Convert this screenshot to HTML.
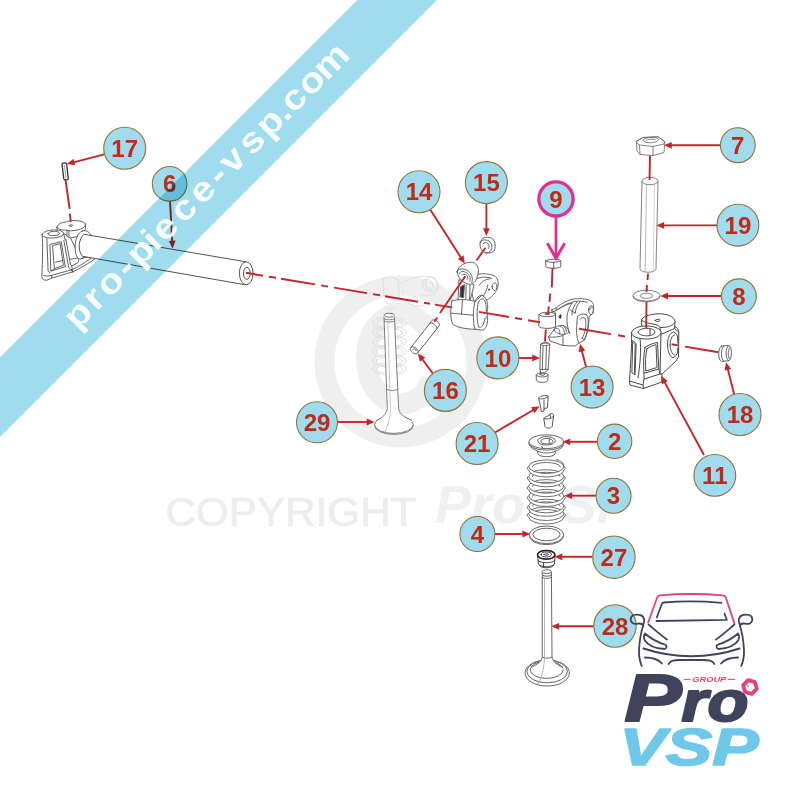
<!DOCTYPE html>
<html lang="fr"><head><meta charset="utf-8"><title>pro-piece-vsp.com</title>
<style>
html,body{margin:0;padding:0;background:#fff;}
svg{display:block;}
text{font-family:"Liberation Sans",sans-serif;}
.num{font-weight:bold;fill:#c02b17;text-anchor:middle;}
.ln{fill:none;stroke:#6a6a6a;stroke-width:0.9;stroke-linecap:round;stroke-linejoin:round;}
.lnf{fill:#fff;stroke:#6a6a6a;stroke-width:0.9;stroke-linecap:round;stroke-linejoin:round;}
.red{fill:none;stroke:#cc2a22;stroke-width:1.5;}
.redf{fill:#cc2a22;stroke:none;}
</style></head><body>
<svg width="800" height="800" viewBox="0 0 800 800">
<rect width="800" height="800" fill="#ffffff"/>
<g id="watermark">
<circle cx="400.5" cy="361.5" r="76" fill="none" stroke="#efefef" stroke-width="20"/>
<path d="M 431.5 337.1 A 34.5 45.5 0 1 0 431.5 379.9" fill="none" stroke="#efefef" stroke-width="21"/>
<text x="165.5" y="526.3" font-size="41.5" fill="#ededed" stroke="#ededed" stroke-width="0.7" textLength="251" lengthAdjust="spacingAndGlyphs">COPYRIGHT</text>
<text x="435" y="523" font-size="54" font-weight="bold" font-style="italic" fill="#f0f0f0" textLength="90" lengthAdjust="spacingAndGlyphs">Pro</text>
<text x="524" y="523" font-size="54" font-weight="bold" font-style="italic" fill="#f0f0f0" textLength="109" lengthAdjust="spacingAndGlyphs">VSP</text>
<g fill="none" stroke="#dcdcdc" stroke-width="0.9" stroke-linecap="round" stroke-linejoin="round">
<ellipse cx="389.5" cy="323.0" rx="17" ry="6.2"/><ellipse cx="389.5" cy="323.3" rx="13.5" ry="4.2"/><ellipse cx="389.5" cy="332.5" rx="17" ry="6.2"/><ellipse cx="389.5" cy="332.8" rx="13.5" ry="4.2"/><ellipse cx="389.5" cy="342.0" rx="17" ry="6.2"/><ellipse cx="389.5" cy="342.3" rx="13.5" ry="4.2"/><ellipse cx="389.5" cy="351.5" rx="17" ry="6.2"/><ellipse cx="389.5" cy="351.8" rx="13.5" ry="4.2"/><ellipse cx="389.5" cy="361.0" rx="17" ry="6.2"/><ellipse cx="389.5" cy="361.3" rx="13.5" ry="4.2"/><ellipse cx="389.5" cy="369.0" rx="17" ry="6.2"/><ellipse cx="389.5" cy="369.3" rx="13.5" ry="4.2"/><path d="M383 279 L384 296 C388 300 396 300 399 296 L398.5 281 C395 276 386 276 383 279 Z"/><path d="M399 285 C410 277 422 275 431 277 C437 279 440 285 438 290 C434 296 426 297 420 295"/><path d="M398.5 296 C404 303 414 307 424 306"/><ellipse cx="431.5" cy="284" rx="6" ry="7.5" transform="rotate(-20 431.5 284)"/><ellipse cx="427.5" cy="285" rx="5" ry="6.5" transform="rotate(-20 427.5 285)"/><path d="M386 301 C386 305 394 305 394 301 M385 307 C388 310 393 310 396 307"/><path d="M403 289 L403.5 293 M408 301 L415 296 L420 302"/></g>
</g>
<g id="art">
<g transform="translate(35,215) scale(0.08750)" stroke="#505050" stroke-width="10.29" fill="none" stroke-linecap="round" stroke-linejoin="round">
<path d="M82 225 C90 330 88 520 78 700 C80 735 100 748 135 745 L190 722 L430 650 C520 610 620 550 700 490 L640 470 L520 500 L400 250 L330 215 Z" fill="#fff"/>
<path d="M100 692 C130 700 170 698 190 690 L420 625 C500 590 560 550 640 495" fill="none"/>
<path d="M190 690 L190 722" fill="none"/>
<path d="M420 625 L430 650" fill="none"/>
<path d="M82 225 C85 185 180 165 250 172 C300 178 330 195 328 215 C320 250 230 268 160 262 C110 258 80 245 82 225 Z" fill="#fff"/>
<path d="M150 212 C152 192 200 184 240 188 C275 192 285 205 278 218 C265 236 200 240 172 232 C155 226 150 220 150 212 Z" fill="none"/>
<path d="M135 262 L150 640 L170 662" fill="none"/>
<path d="M328 215 L345 285" fill="none"/>
<path d="M175 335 L300 305 L345 590 L185 640 Z" fill="none"/>
<path d="M205 348 L288 328 L325 575 L225 612 Z" fill="none"/>
<path d="M225 612 L185 640" fill="none"/>
<path d="M235 540 L318 520" fill="none"/>
<path d="M330 290 L385 600 L430 650" fill="none"/>
<path d="M352 275 L405 560" fill="none"/>
<path d="M365 175 L365 245 L400 262 L470 250 L578 165 L578 105 Z" fill="#fff"/>
<path d="M250 140 C255 105 300 85 345 82 C400 55 540 55 575 100 C585 140 520 175 420 180 C400 182 375 180 365 172 C330 175 270 172 250 140 Z" fill="#fff"/>
<path d="M388 182 L388 250" fill="none"/>
<path d="M250 140 L255 178" fill="none"/>
<path d="M390 122 C392 108 430 108 432 120 C430 133 392 134 390 122 Z" fill="none"/>
<path d="M545 180 C480 200 445 320 462 420 C470 470 490 500 515 505 L560 480 L648 250 C630 195 585 170 545 180 Z" fill="#fff"/>
<path d="M400 505 C440 500 470 495 490 492 C505 510 500 535 490 545 L420 582 L402 560" fill="none"/>
<path d="M420 582 L430 650" fill="none"/>
</g>
<g stroke="#4a4a4a" stroke-width="0.95" fill="#fff" stroke-linejoin="round">
<path d="M84.2 234.3 C78.6 238 77.2 251 82.6 256.3 L244.8 284.7 A6.8 11.5 0 0 0 246 261.8 Z"/><ellipse cx="246.2" cy="273.3" rx="6.8" ry="11.5"/><ellipse cx="246.8" cy="273.4" rx="3.4" ry="6"/></g>
<g transform="translate(620,120) scale(0.10000)" stroke="#6e6e6e" stroke-width="8.50" fill="none" stroke-linecap="round" stroke-linejoin="round">
<path d="M165 215 L170 310 L200 345 L330 355 L440 325 L447 240 L445 215 L380 168 L230 175 Z" fill="#fff"/>
<path d="M165 215 L230 175 L380 167 L445 215 L440 240 L330 265 L195 250 Z" fill="none"/>
<path d="M195 250 L200 345" fill="none"/>
<path d="M330 265 L330 355" fill="none"/>
<path d="M235 200 C240 180 300 170 350 175 C385 180 390 200 375 212 C350 230 280 232 250 220 C238 214 234 208 235 200 Z" fill="none"/>
<path d="M262 205 C270 192 320 188 352 196" fill="none"/>
</g>
<g stroke="#6e6e6e" stroke-width="0.85" fill="#fff" stroke-linejoin="round">
<path d="M642 181 L640 268.5 C640 273.5 656 273.5 656 268.5 L658 181 Z"/><ellipse cx="650" cy="181" rx="8" ry="3.7"/><path d="M646.5 184.3 L645.2 271.5" fill="none" stroke="#9a9a9a" stroke-width="0.7"/><path d="M654.5 184 L653.3 271.3" fill="none" stroke="#b5b5b5" stroke-width="0.6"/></g>
<g stroke="#6e6e6e" stroke-width="0.85" fill="#fff">
<ellipse cx="646.5" cy="296.4" rx="13.5" ry="5.4"/><ellipse cx="646.5" cy="295.6" rx="13.5" ry="5.4"/><ellipse cx="646.5" cy="295.8" rx="6.2" ry="2.5"/></g>
<g transform="translate(620,305) scale(0.10000)" stroke="#484848" stroke-width="10.00" fill="none" stroke-linecap="round" stroke-linejoin="round">
<path d="M410 225 L540 212 C575 225 588 250 588 270 L585 520 L560 560 L420 690 L400 690 Z" fill="#fff"/>
<path d="M475 400 C475 320 500 275 535 272 C560 275 575 300 578 330" fill="none"/>
<path d="M475 400 C478 470 500 520 530 528 C550 520 570 495 578 470" fill="none"/>
<path d="M500 400 C502 340 520 305 545 300" fill="none"/>
<path d="M500 400 C503 455 520 490 545 500" fill="none"/>
<path d="M578 330 L578 380" fill="none"/>
<path d="M578 430 L578 470" fill="none"/>
<path d="M215 150 L218 215 L420 290 L545 235 L550 165 Z" fill="#fff"/>
<path d="M215 150 C220 120 280 95 380 88 C470 85 545 115 550 165 C545 200 480 225 420 225 C400 225 385 215 380 205 C330 180 260 195 215 150 Z" fill="#fff"/>
<path d="M350 155 C352 140 395 138 400 152 C398 168 355 170 350 155 Z" fill="none"/>
<path d="M400 225 L405 290" fill="none"/>
<path d="M545 235 L588 270" fill="none"/>
<path d="M115 280 C120 400 105 600 95 760 L230 800 L240 740 L400 690 L410 280 Z" fill="#fff"/>
<path d="M115 280 C118 235 190 208 270 210 C350 212 412 240 410 275 C405 318 330 342 260 340 C180 338 118 318 115 280 Z" fill="#fff"/>
<path d="M182 272 C185 245 230 232 270 233 C315 235 350 250 348 272 C345 298 300 310 262 308 C220 306 184 296 182 272 Z" fill="none"/>
<path d="M300 240 L300 300" fill="none"/>
<path d="M250 425 C290 395 340 380 375 375 L388 640 L240 682 C232 600 235 500 250 425 Z" fill="none"/>
<path d="M268 440 C300 415 335 402 360 398 L370 625 L258 660 C252 590 255 500 268 440 Z" fill="none"/>
<path d="M388 640 L400 690" fill="none"/>
<path d="M240 682 L240 740" fill="none"/>
<path d="M130 360 L162 385 L150 700 L122 680 Z" fill="none"/>
<path d="M140 385 L152 398 L144 680" fill="none"/>
<path d="M200 335 C215 450 200 600 180 730" fill="none"/>
<path d="M95 760 L100 800 L235 835" fill="none"/>
<path d="M230 800 L235 835 L420 770 L420 690" fill="none"/>
</g>
<g transform="translate(690,330) scale(0.07500)" stroke="#555" stroke-width="12.00" fill="none" stroke-linecap="round" stroke-linejoin="round">
<path d="M420 215 L515 205 C565 210 565 400 515 410 L420 418 C370 410 370 225 420 215 Z" fill="#fff"/>
<path d="M450 213 C410 240 405 390 450 415" fill="none"/>
<path d="M515 205 C470 230 465 390 515 410" fill="none"/>
<path d="M530 240 C505 270 500 360 525 385" fill="none"/>
</g>
<g transform="translate(440,255) scale(0.10000)" stroke="#555" stroke-width="9.00" fill="none" stroke-linecap="round" stroke-linejoin="round">
<path d="M360 200 C400 180 480 185 540 205 C575 225 590 270 578 320 C565 370 520 420 470 450 L340 470 L300 300 Z" fill="#fff"/>
<path d="M350 245 C400 215 470 215 520 235" fill="none"/>
<path d="M395 300 C420 260 460 240 500 238" fill="none"/>
<path d="M430 420 C450 380 470 350 478 300" fill="none"/>
<path d="M520 315 C520 285 545 270 560 285 C575 305 570 345 550 355 C530 355 520 340 520 315 Z" fill="none"/>
<path d="M484 345 C484 335 496 335 496 345 C496 357 484 357 484 345 Z" fill="#222"/>
<path d="M190 250 L180 450 L300 460 L340 300 Z" fill="#fff"/>
<path d="M205 320 L200 420 L235 425 L245 300 Z" fill="#333"/>
<path d="M262 300 L258 440" fill="none"/>
<path d="M300 300 L296 445" fill="none"/>
<path d="M172 165 C185 110 240 75 310 72 C360 75 392 120 382 178 C375 235 345 280 312 292 C270 300 180 260 172 165 Z" fill="#fff"/>
<path d="M172 175 C170 140 215 128 265 150 C315 175 335 230 318 275" fill="none"/>
<path d="M195 185 C200 160 235 158 268 178 C298 198 310 235 298 262" fill="none"/>
<path d="M222 200 C228 188 250 190 266 203 C280 216 282 235 272 245" fill="none"/>
<path d="M120 460 C105 520 100 620 125 690 C160 722 260 742 350 742 L430 752 C470 730 485 660 472 615 L470 560 C490 520 470 420 420 402 L350 465 C280 440 180 440 120 460 Z" fill="#fff"/>
<path d="M350 465 C325 560 330 680 350 742" fill="none"/>
<path d="M350 465 C365 425 395 400 420 402" fill="none"/>
<path d="M385 470 C365 540 365 660 388 722 C410 735 440 700 448 640" fill="none"/>
<path d="M385 470 C400 440 425 430 440 445 C460 470 465 520 462 560" fill="none"/>
<path d="M112 582 L335 602" fill="none"/>
<path d="M225 452 L215 590" fill="none"/>
<path d="M448 640 L472 615" fill="none"/>
<path d="M462 560 L470 560" fill="none"/>
</g>
<g transform="translate(400,220) scale(0.15000)" stroke="#555" stroke-width="6.00" fill="none" stroke-linecap="round" stroke-linejoin="round">
<path d="M535 150 C540 120 575 108 610 120 C635 135 640 170 630 200 C615 228 570 225 548 205 C535 190 530 170 535 150 Z" fill="#fff"/>
<path d="M535 150 C545 130 570 128 592 140 C612 152 618 178 608 200 C600 215 585 222 570 220" fill="none"/>
<path d="M555 158 C560 148 575 148 585 156 C595 165 596 180 590 190" fill="none"/>
</g>
<g transform="translate(530,290) scale(0.10000)" stroke="#555" stroke-width="9.00" fill="none" stroke-linecap="round" stroke-linejoin="round">
<path d="M215 200 L262 178 C320 130 380 100 430 92 C480 82 560 82 610 110 C640 135 645 180 625 232 L590 272 C590 330 580 420 545 498 L490 532 L450 560 L330 555 L200 510 L185 470 L250 385 L255 230 Z" fill="#fff"/>
<path d="M215 200 L222 222 L262 205 L262 178" fill="none"/>
<path d="M262 205 C320 160 390 125 450 115 C500 108 545 112 575 125" fill="none"/>
<path d="M280 195 C330 158 380 140 420 132" fill="none"/>
<path d="M420 132 C395 165 375 215 370 265 C365 330 380 400 400 440" fill="none"/>
<path d="M470 120 C440 150 420 200 418 250" fill="none"/>
<path d="M500 118 C470 150 455 190 452 230" fill="none"/>
<path d="M400 200 L440 225 L452 230" fill="none"/>
<path d="M585 200 C585 165 605 150 620 160 C640 180 638 230 620 245 C600 250 585 232 585 200 Z" fill="none"/>
<path d="M596 200 C597 178 610 170 618 178" fill="none"/>
<path d="M292 268 C292 250 305 240 310 250 C314 265 310 285 300 285 C294 284 292 278 292 268 Z" fill="#222"/>
<path d="M478 262 C500 240 545 232 570 250 C590 290 590 400 545 498" fill="none"/>
<path d="M500 292 C515 275 540 272 552 285 C565 330 560 420 522 482" fill="none"/>
<path d="M470 330 C462 400 462 470 490 532" fill="none"/>
<path d="M478 262 C470 290 468 310 470 330" fill="none"/>
<path d="M522 482 L545 498" fill="none"/>
<path d="M240 395 C250 365 290 350 330 355 C360 362 385 390 388 420 C380 440 340 448 300 440 C265 432 240 415 240 395 Z" fill="none"/>
<path d="M265 385 C285 375 300 400 298 435" fill="none"/>
<path d="M300 365 C325 365 345 395 345 440" fill="none"/>
<path d="M335 360 C355 370 365 395 362 420" fill="none"/>
<path d="M185 470 C240 475 290 470 330 455" fill="none"/>
<path d="M330 455 L330 555" fill="none"/>
<path d="M90 245 L88 362 C100 390 240 392 255 362 L255 245 C250 215 95 215 90 245 Z" fill="#fff"/>
<path d="M90 245 C95 275 250 275 255 245" fill="none"/>
<path d="M150 240 C152 230 195 230 198 240 C195 250 152 250 150 240 Z" fill="none"/>
</g>
<g transform="translate(500,250) scale(0.15000)" stroke="#555" stroke-width="6.00" fill="none" stroke-linecap="round" stroke-linejoin="round">
<path d="M305 72 L305 112 C320 125 390 125 405 112 L405 72 C395 58 315 58 305 72 Z" fill="#fff"/>
<path d="M305 72 C318 86 392 86 405 72" fill="none"/>
<path d="M358 82 L358 122" fill="none"/>
</g>
<g stroke="#555" stroke-width="0.9" fill="#fff" stroke-linejoin="round">
<path d="M410.9 347.5 L432 320.6 C434 317.8 441 323 439 326 L417.8 352.9 C415.5 356 408.5 350.5 410.9 347.5 Z"/><path d="M410.9 347.5 C413 345 420 350 417.8 352.9" fill="none"/><path d="M429.6 323.6 C432 321.6 438 326.2 436.6 329" fill="none"/><path d="M412.8 350.2 C412.6 348.2 415.6 348.6 416.4 351" fill="none"/></g>
<g transform="translate(500,330) scale(0.12500)" stroke="#555" stroke-width="7.20" fill="none" stroke-linecap="round" stroke-linejoin="round">
<path d="M325 115 C330 95 395 95 398 115 L385 315 L322 315 Z" fill="#fff"/>
<path d="M325 115 C330 130 392 130 398 115" fill="none"/>
<path d="M338 108 C345 102 380 102 386 108" fill="none"/>
<path d="M345 128 L338 312" fill="none"/>
<path d="M372 128 L366 312" fill="none"/>
<path d="M290 360 C295 335 380 335 385 360 L382 405 C370 425 300 425 292 405 Z" fill="#fff"/>
<path d="M290 360 C298 382 378 382 385 360" fill="none"/>
<path d="M318 355 C322 345 355 345 358 355 C355 365 322 365 318 355 Z" fill="none"/>
<path d="M322 315 L325 350" fill="none"/>
<path d="M385 315 L352 350" fill="none"/>
</g>
<g transform="translate(500,330) scale(0.12500)" stroke="#444" stroke-width="7.20" fill="none" stroke-linecap="round" stroke-linejoin="round">
<path d="M310 545 C320 525 370 518 385 530 L380 620 L352 632 L350 650 L330 655 L322 600 Z" fill="#fff"/>
<path d="M310 545 C325 560 365 550 385 530" fill="none"/>
<path d="M352 560 L352 632" fill="none"/>
<path d="M352 705 C365 690 395 690 400 672 C415 662 432 672 428 690 L418 770 C405 790 372 790 362 775 Z" fill="#fff"/>
<path d="M352 705 C370 720 410 715 428 690" fill="none"/>
<path d="M400 672 L405 700" fill="none"/>
</g>
<g stroke="#555" stroke-width="0.9" fill="#fff" stroke-linejoin="round">
<path d="M529 442.5 C529 447 533 449.5 537.5 451 L538 454 C540 457.6 553 457.6 555 454 L555.5 451 C560 449.5 564 447 563.7 442.5 Z"/><path d="M537.5 451 C541 453.6 552 453.6 555.5 451" fill="none"/><ellipse cx="546.3" cy="443.2" rx="17.4" ry="6.9"/><ellipse cx="546.3" cy="441.7" rx="17.4" ry="6.9"/><ellipse cx="546.5" cy="440.8" rx="8.8" ry="4.2"/><ellipse cx="546.8" cy="441.2" rx="6" ry="2.8"/><path d="M549.5 438.5 L549 443.5 M541.5 446 L543 448.3" fill="none"/></g>
<path d="M528.7 466 A17.6 7 0 0 1 563.9 466 L563.9 517 A17.6 7 0 0 1 528.7 517 Z" fill="#fff" stroke="none"/>
<g stroke="#555" stroke-width="0.85" fill="none">
<path d="M528.8 466.5 A17.5 6.6 0 0 1 563.8 466.5" /><path d="M532.3 467.1 A14 4.6 0 0 1 560.3 467.1" /><path d="M528.8 476.3 A17.5 6.6 0 0 1 563.8 476.3" /><path d="M532.3 476.9 A14 4.6 0 0 1 560.3 476.9" /><path d="M528.8 486.2 A17.5 6.6 0 0 1 563.8 486.2" /><path d="M532.3 486.8 A14 4.6 0 0 1 560.3 486.8" /><path d="M528.8 496.0 A17.5 6.6 0 0 1 563.8 496.0" /><path d="M532.3 496.6 A14 4.6 0 0 1 560.3 496.6" /><path d="M528.8 505.8 A17.5 6.6 0 0 1 563.8 505.8" /><path d="M532.3 506.4 A14 4.6 0 0 1 560.3 506.4" /><path d="M528.8 513.5 A17.5 6.6 0 0 1 563.8 513.5" /><path d="M532.3 514.1 A14 4.6 0 0 1 560.3 514.1" /><path d="M528.7 466.5 A17.6 7 0 0 0 546.3 473.5 A17.6 7 0 0 0 563.9 466.5 A1.8 1.8 0 0 1 563.9 470.0 A17.6 7 0 0 1 546.3 477.0 A17.6 7 0 0 1 528.7 470.0 A1.8 1.8 0 0 1 528.7 466.5 Z" fill="#fff"/><path d="M528.7 476.3 A17.6 7 0 0 0 546.3 483.3 A17.6 7 0 0 0 563.9 476.3 A1.8 1.8 0 0 1 563.9 479.8 A17.6 7 0 0 1 546.3 486.8 A17.6 7 0 0 1 528.7 479.8 A1.8 1.8 0 0 1 528.7 476.3 Z" fill="#fff"/><path d="M528.7 486.2 A17.6 7 0 0 0 546.3 493.2 A17.6 7 0 0 0 563.9 486.2 A1.8 1.8 0 0 1 563.9 489.7 A17.6 7 0 0 1 546.3 496.7 A17.6 7 0 0 1 528.7 489.7 A1.8 1.8 0 0 1 528.7 486.2 Z" fill="#fff"/><path d="M528.7 496.0 A17.6 7 0 0 0 546.3 503.0 A17.6 7 0 0 0 563.9 496.0 A1.8 1.8 0 0 1 563.9 499.5 A17.6 7 0 0 1 546.3 506.5 A17.6 7 0 0 1 528.7 499.5 A1.8 1.8 0 0 1 528.7 496.0 Z" fill="#fff"/><path d="M528.7 505.8 A17.6 7 0 0 0 546.3 512.8 A17.6 7 0 0 0 563.9 505.8 A1.8 1.8 0 0 1 563.9 509.3 A17.6 7 0 0 1 546.3 516.3 A17.6 7 0 0 1 528.7 509.3 A1.8 1.8 0 0 1 528.7 505.8 Z" fill="#fff"/><path d="M528.7 513.5 A17.6 7 0 0 0 546.3 520.5 A17.6 7 0 0 0 563.9 513.5 A1.8 1.8 0 0 1 563.9 517.0 A17.6 7 0 0 1 546.3 524.0 A17.6 7 0 0 1 528.7 517.0 A1.8 1.8 0 0 1 528.7 513.5 Z" fill="#fff"/><path d="M556 459.5 C561 460.5 564 463 563.9 466.5" /></g>
<g stroke="#555" stroke-width="0.9" fill="#fff">
<ellipse cx="546.5" cy="535.8" rx="17.2" ry="8.8"/><ellipse cx="546.5" cy="534.8" rx="17.2" ry="8.8"/><ellipse cx="546.5" cy="534.5" rx="13.6" ry="6.3"/></g>
<g transform="translate(510,500) scale(0.10000)" stroke="#333" stroke-width="9.00" fill="none" stroke-linecap="round" stroke-linejoin="round">
<path d="M275 555 L285 640 C300 690 430 690 445 640 L450 555 Z" fill="#fff"/>
<path d="M280 605 C300 635 430 635 448 605" fill="none"/>
<path d="M335 625 L335 672" fill="none"/>
<path d="M300 655 C330 672 400 672 435 652" fill="none"/>
<path d="M275 548 C275 520 315 505 362 505 C410 505 450 520 450 548 C450 578 410 592 362 592 C315 592 275 578 275 548 Z" fill="#fff"/>
<path d="M310 545 C310 528 335 520 362 520 C392 520 415 528 415 545 C415 560 392 570 362 570 C335 570 310 560 310 545 Z" fill="none"/>
<path d="M340 545 C340 535 385 535 385 545 C385 556 340 556 340 545 Z" fill="none"/>
</g>
<ellipse cx="546.2" cy="554.8" rx="8.7" ry="4.3" fill="none" stroke="#222" stroke-width="1.5"/>
<g stroke="#555" stroke-width="0.9" fill="#fff" stroke-linejoin="round">
<ellipse cx="547.2" cy="673" rx="22.2" ry="13"/><ellipse cx="547.2" cy="671.5" rx="20.3" ry="11.3"/><ellipse cx="546.7" cy="669.8" rx="16.5" ry="8.6"/><path d="M542.2 572 L542.2 657 C541.5 662 537 665 530.5 668 C535 676 560 676 563.5 668 C557 665 552.8 662 552 657 L551.4 572 C551 569.5 542.6 569.5 542.2 572 Z" stroke="none"/><path d="M542.2 572 L542.2 657 C541.5 662 537 664.5 531 667.5 M563 667.5 C557 664.5 552.8 662 552 657 L551.4 572" fill="none"/><ellipse cx="546.8" cy="571.6" rx="4.6" ry="1.9"/><path d="M542.3 575 C544 576.6 549.6 576.6 551.4 575 M542.3 577.2 C544 578.8 549.6 578.8 551.4 577.2 M542.2 657 C545 658.6 549.5 658.6 552 657" fill="none"/><path d="M544.5 579 L544.5 656 C544.5 666 542 677 538 684" fill="none" stroke="#999" stroke-width="0.7"/></g>
<g stroke="#666" stroke-width="0.85" fill="#fff" stroke-linejoin="round">
<ellipse cx="393.9" cy="425.6" rx="19.3" ry="8.8"/><ellipse cx="393.9" cy="424.6" rx="19.3" ry="8.8"/><path d="M384 317 L387.3 408.5 C386.8 414 382 418 375.5 421.5 C382 428 406 428 412.5 421 C405 417.5 399.2 414 398.6 408.5 L394.4 317 C394 313.4 384.3 313.4 384 317 Z" stroke="none"/><path d="M384 317 L387.3 408.5 C386.8 414 382 418 376 421 M412 420.5 C405 417.5 399.2 414 398.6 408.5 L394.4 317" fill="none"/><ellipse cx="389.2" cy="315.2" rx="5.2" ry="2"/><path d="M384 318.5 C385.5 320.2 393 320.2 394.5 318.5 M384.1 320.7 C385.6 322.4 393.1 322.4 394.6 320.7 M386.6 389.3 C388.5 390.8 395.8 390.8 397.7 389.3" fill="none"/><path d="M387.8 322 L390.5 409 C390.5 417 388 426 385 432" fill="none" stroke="#aaa" stroke-width="0.7"/></g>
<path d="M62 164.2 C62.3 162.6 66 162.3 66.6 163.8 L68.3 178.3 C68 180.2 64.4 180.6 63.8 178.9 Z" fill="#fff" stroke="#333" stroke-width="1.3"/>
<path d="M64.3 165 L66 178" fill="none" stroke="#777" stroke-width="0.7"/>
</g>
<g id="callouts">
<line x1="246.0" y1="272.8" x2="263.0" y2="275.7" stroke="#c4242c" stroke-width="1.9"/><line x1="269.0" y1="276.7" x2="276.0" y2="277.8" stroke="#c4242c" stroke-width="1.9"/><line x1="281.0" y1="278.7" x2="315.0" y2="284.4" stroke="#c4242c" stroke-width="1.9"/><line x1="321.0" y1="285.4" x2="328.0" y2="286.6" stroke="#c4242c" stroke-width="1.9"/><line x1="334.0" y1="287.6" x2="367.0" y2="293.1" stroke="#c4242c" stroke-width="1.9"/><line x1="373.0" y1="294.1" x2="380.0" y2="295.3" stroke="#c4242c" stroke-width="1.9"/><line x1="385.0" y1="296.2" x2="418.0" y2="301.7" stroke="#c4242c" stroke-width="1.9"/><line x1="424.0" y1="302.7" x2="430.0" y2="303.7" stroke="#c4242c" stroke-width="1.9"/><line x1="435.0" y1="304.6" x2="452.0" y2="307.4" stroke="#c4242c" stroke-width="1.9"/><line x1="479.0" y1="311.9" x2="509.0" y2="317.0" stroke="#c4242c" stroke-width="1.9"/><line x1="515.0" y1="318.0" x2="522.0" y2="319.2" stroke="#c4242c" stroke-width="1.9"/><line x1="528.0" y1="320.2" x2="540.0" y2="322.2" stroke="#c4242c" stroke-width="1.9"/><line x1="579.0" y1="328.7" x2="611.0" y2="334.1" stroke="#c4242c" stroke-width="1.9"/><line x1="618.0" y1="335.3" x2="625.0" y2="336.5" stroke="#c4242c" stroke-width="1.9"/><line x1="671.5" y1="344.3" x2="678.0" y2="345.4" stroke="#c4242c" stroke-width="1.9"/><line x1="685.0" y1="346.6" x2="718.5" y2="352.2" stroke="#c4242c" stroke-width="1.9"/>
<line x1="485.4" y1="247.8" x2="476.5" y2="260.5" stroke="#c4242c" stroke-width="1.9"/><line x1="465.3" y1="276.3" x2="440.0" y2="313.0" stroke="#c4242c" stroke-width="1.9"/><line x1="437.2" y1="317.5" x2="434.3" y2="321.7" stroke="#c4242c" stroke-width="1.9"/><line x1="552.5" y1="268.0" x2="551.8" y2="287.5" stroke="#c4242c" stroke-width="1.9"/><line x1="550.3" y1="293.5" x2="549.5" y2="301.8" stroke="#c4242c" stroke-width="1.9"/><line x1="548.8" y1="306.3" x2="548.0" y2="314.5" stroke="#c4242c" stroke-width="1.9"/><line x1="545.8" y1="329.5" x2="545.0" y2="341.5" stroke="#c4242c" stroke-width="1.9"/><line x1="650.0" y1="155.5" x2="649.5" y2="180.0" stroke="#c4242c" stroke-width="1.9"/><line x1="648.0" y1="273.5" x2="647.5" y2="280.0" stroke="#c4242c" stroke-width="1.9"/><line x1="647.0" y1="285.0" x2="646.5" y2="292.0" stroke="#c4242c" stroke-width="1.9"/><line x1="646.5" y1="301.5" x2="646.2" y2="328.0" stroke="#c4242c" stroke-width="1.9"/><line x1="65.5" y1="179.8" x2="69.7" y2="209.0" stroke="#c4242c" stroke-width="1.9"/><line x1="69.8" y1="213.5" x2="70.8" y2="221.8" stroke="#c4242c" stroke-width="1.9"/>
<line x1="104.3" y1="154.3" x2="73.4" y2="162.3" stroke="#c4242c" stroke-width="1.9"/><polygon points="66.8,164.0 73.5,158.8 75.2,165.3" fill="#c4242c"/>
<line x1="170.0" y1="201.0" x2="172.2" y2="241.7" stroke="#c4242c" stroke-width="1.9"/><polygon points="172.6,248.5 168.8,240.9 175.6,240.5" fill="#c4242c"/>
<line x1="430.2" y1="209.4" x2="461.1" y2="257.9" stroke="#c4242c" stroke-width="1.9"/><polygon points="464.8,263.6 457.7,258.9 463.5,255.2" fill="#c4242c"/>
<line x1="486.4" y1="203.5" x2="486.4" y2="229.2" stroke="#c4242c" stroke-width="1.9"/><polygon points="486.4,236.0 483.0,228.2 489.8,228.2" fill="#c4242c"/>
<line x1="720.4" y1="145.3" x2="670.8" y2="145.3" stroke="#c4242c" stroke-width="1.9"/><polygon points="664.0,145.3 671.8,141.9 671.8,148.7" fill="#c4242c"/>
<line x1="717.0" y1="225.4" x2="663.1" y2="225.4" stroke="#c4242c" stroke-width="1.9"/><polygon points="656.3,225.4 664.1,222.0 664.1,228.8" fill="#c4242c"/>
<line x1="721.5" y1="296.0" x2="667.1" y2="296.0" stroke="#c4242c" stroke-width="1.9"/><polygon points="660.3,296.0 668.1,292.6 668.1,299.4" fill="#c4242c"/>
<line x1="734.2" y1="394.4" x2="727.7" y2="368.8" stroke="#c4242c" stroke-width="1.9"/><polygon points="726.0,362.2 731.2,368.9 724.6,370.6" fill="#c4242c"/>
<line x1="704.0" y1="455.0" x2="664.4" y2="381.9" stroke="#c4242c" stroke-width="1.9"/><polygon points="661.2,375.9 667.9,381.1 661.9,384.4" fill="#c4242c"/>
<line x1="586.3" y1="367.5" x2="581.7" y2="350.4" stroke="#c4242c" stroke-width="1.9"/><polygon points="580.0,343.8 585.3,350.5 578.7,352.2" fill="#c4242c"/>
<line x1="518.8" y1="358.0" x2="533.2" y2="358.0" stroke="#c4242c" stroke-width="1.9"/><polygon points="540.0,358.0 532.2,361.4 532.2,354.6" fill="#c4242c"/>
<line x1="432.9" y1="373.5" x2="422.0" y2="358.8" stroke="#c4242c" stroke-width="1.9"/><polygon points="417.9,353.4 425.3,357.6 419.8,361.7" fill="#c4242c"/>
<line x1="337.6" y1="422.0" x2="367.7" y2="422.0" stroke="#c4242c" stroke-width="1.9"/><polygon points="374.5,422.0 366.7,425.4 366.7,418.6" fill="#c4242c"/>
<line x1="495.0" y1="432.5" x2="533.6" y2="409.8" stroke="#c4242c" stroke-width="1.9"/><polygon points="539.5,406.3 534.5,413.2 531.1,407.3" fill="#c4242c"/>
<line x1="597.6" y1="441.8" x2="569.2" y2="441.8" stroke="#c4242c" stroke-width="1.9"/><polygon points="562.4,441.8 570.2,438.4 570.2,445.2" fill="#c4242c"/>
<line x1="596.0" y1="495.7" x2="571.1" y2="495.7" stroke="#c4242c" stroke-width="1.9"/><polygon points="564.3,495.7 572.1,492.3 572.1,499.1" fill="#c4242c"/>
<line x1="495.0" y1="534.0" x2="523.4" y2="534.0" stroke="#c4242c" stroke-width="1.9"/><polygon points="530.2,534.0 522.4,537.4 522.4,530.6" fill="#c4242c"/>
<line x1="592.6" y1="556.8" x2="561.3" y2="556.8" stroke="#c4242c" stroke-width="1.9"/><polygon points="554.5,556.8 562.3,553.4 562.3,560.2" fill="#c4242c"/>
<line x1="593.8" y1="626.3" x2="558.1" y2="626.3" stroke="#c4242c" stroke-width="1.9"/><polygon points="551.3,626.3 559.1,622.9 559.1,629.7" fill="#c4242c"/>
<path d="M556 217 V257.5" stroke="#e0308f" stroke-width="2.8" fill="none"/><path d="M547.3 243.3 L556 258.3 L564.6 243.3" stroke="#e0308f" stroke-width="3" fill="none" stroke-linejoin="miter"/>
<circle cx="124.7" cy="148.3" r="21.0" fill="#a0dcee" stroke="#8e7436" stroke-width="1.1"/><text class="num" x="124.7" y="156.9" font-size="24">17</text>
<circle cx="169.6" cy="183.8" r="17.3" fill="#a0dcee" stroke="#8e7436" stroke-width="1.1"/><text class="num" x="169.6" y="192.4" font-size="24">6</text>
<circle cx="419.0" cy="191.7" r="21.0" fill="#a0dcee" stroke="#8e7436" stroke-width="1.1"/><text class="num" x="419.0" y="200.3" font-size="24">14</text>
<circle cx="486.4" cy="182.6" r="21.0" fill="#a0dcee" stroke="#8e7436" stroke-width="1.1"/><text class="num" x="486.4" y="191.2" font-size="24">15</text>
<circle cx="737.8" cy="145.2" r="17.4" fill="#a0dcee" stroke="#8e7436" stroke-width="1.1"/><text class="num" x="737.8" y="153.8" font-size="24">7</text>
<circle cx="737.9" cy="225.2" r="20.9" fill="#a0dcee" stroke="#8e7436" stroke-width="1.1"/><text class="num" x="737.9" y="233.8" font-size="24">19</text>
<circle cx="738.9" cy="296.3" r="17.4" fill="#a0dcee" stroke="#8e7436" stroke-width="1.1"/><text class="num" x="738.9" y="304.9" font-size="24">8</text>
<circle cx="740.0" cy="414.5" r="21.0" fill="#a0dcee" stroke="#8e7436" stroke-width="1.1"/><text class="num" x="740.0" y="423.1" font-size="24">18</text>
<circle cx="714.8" cy="475.4" r="20.9" fill="#a0dcee" stroke="#8e7436" stroke-width="1.1"/><text class="num" x="714.8" y="484.0" font-size="24">11</text>
<circle cx="592.1" cy="387.1" r="21.0" fill="#a0dcee" stroke="#8e7436" stroke-width="1.1"/><text class="num" x="592.1" y="395.7" font-size="24">13</text>
<circle cx="497.9" cy="357.9" r="21.0" fill="#a0dcee" stroke="#8e7436" stroke-width="1.1"/><text class="num" x="497.9" y="366.5" font-size="24">10</text>
<circle cx="445.4" cy="390.4" r="21.0" fill="#a0dcee" stroke="#8e7436" stroke-width="1.1"/><text class="num" x="445.4" y="399.0" font-size="24">16</text>
<circle cx="317.0" cy="422.3" r="20.5" fill="#a0dcee" stroke="#8e7436" stroke-width="1.1"/><text class="num" x="317.0" y="430.9" font-size="24">29</text>
<circle cx="477.1" cy="443.5" r="21.0" fill="#a0dcee" stroke="#8e7436" stroke-width="1.1"/><text class="num" x="477.1" y="452.1" font-size="24">21</text>
<circle cx="614.6" cy="441.3" r="17.2" fill="#a0dcee" stroke="#8e7436" stroke-width="1.1"/><text class="num" x="614.6" y="449.9" font-size="24">2</text>
<circle cx="613.5" cy="495.8" r="17.5" fill="#a0dcee" stroke="#8e7436" stroke-width="1.1"/><text class="num" x="613.5" y="504.4" font-size="24">3</text>
<circle cx="477.4" cy="534.0" r="17.5" fill="#a0dcee" stroke="#8e7436" stroke-width="1.1"/><text class="num" x="477.4" y="542.6" font-size="24">4</text>
<circle cx="613.9" cy="557.2" r="21.2" fill="#a0dcee" stroke="#8e7436" stroke-width="1.1"/><text class="num" x="613.9" y="565.8" font-size="24">27</text>
<circle cx="615.0" cy="626.0" r="21.2" fill="#a0dcee" stroke="#8e7436" stroke-width="1.1"/><text class="num" x="615.0" y="634.6" font-size="24">28</text>
<circle cx="556" cy="198.9" r="15.6" fill="#a0dcee"/><circle cx="556" cy="198.9" r="17.1" fill="none" stroke="#e0308f" stroke-width="3.3"/><text class="num" x="556" y="207.5" font-size="24">9</text>
</g>
<g id="banner">
<polygon points="0,357.5 357.5,0 437,0 0,437" fill="#9edcee" style="mix-blend-mode:multiply"/>
<text transform="rotate(-45) scale(1.12,1)" x="-149.1 -129.0 -108.9 -89.3 -70.1 -55.8 -39.7 -16.1 7.4 27.2 46.0 69.9 92.9 108.2 123.0 145.1 170.5" y="288.8" text-anchor="middle" font-size="35.5" font-weight="bold" fill="#ffffff" fill-opacity="0.92">pro-piece-vsp.com</text>
</g>
<g id="logo">
<g fill="none" stroke-linecap="round" stroke-linejoin="round">
<path d="M648.1 622.5 L657.3 597.2 Q658 595.6 660 595.4 Q690 592.6 722.5 595.4 Q725 595.7 725.8 597.5 L734.4 623.4" stroke="#e6407f" stroke-width="1.8"/>
<g stroke="#3f445b" stroke-width="1.8">
<path d="M656.8 617.5 L661.8 604 Q662.4 602.6 664 602.5 Q691 600 721.5 602.8"/><path d="M724.5 613.5 L726.8 619.8 L656.5 621"/><path d="M643.2 625.5 C641 621.5 638 624.5 634.5 623.8 C629.5 622.5 629.5 616.5 634 615 C638.5 613.8 643.5 615 644.2 619.5 C644.5 621.5 643.5 623 643.2 625.5"/><path d="M739.8 625.5 C742 621.5 745 624.5 748.5 623.8 C753.5 622.5 753.5 616.5 749 615 C744.5 613.8 739.5 615 738.8 619.5 C738.5 621.5 739.5 623 739.8 625.5"/><path d="M643.2 625.5 C641 632 639.5 641 639 650 C638.8 656 640 662 641.8 666"/><path d="M739.8 625.5 C742 632 743.5 641 744 650 C744.2 656 743 662 741.2 666"/><path d="M648.5 624.5 C655 630 661 635.5 667 639.5"/><path d="M734.5 624.5 C728 630 722 635.5 716 639.5"/><path d="M645 633.5 C650 638 658 642.5 666 645 C667 647 666.5 648.5 664.5 649 C656 648.5 648 645.5 644.5 640 C643.5 637.5 644 635 645 633.5 Z"/><path d="M738 633.5 C733 638 725 642.5 717 645 C716 647 716.5 648.5 718.5 649 C727 648.5 735 645.5 738.5 640 C739.5 637.5 739 635 738 633.5 Z"/><path d="M643.5 648.5 C660 654 675 656.3 691.3 656.3 C708 656.3 723 654 739.5 648.5" stroke-width="2"/><path d="M645 657.5 C652 657.5 658 659 662 663.5"/><path d="M738 657.5 C731 657.5 725 659 721 663.5"/><path d="M668.5 664 C671 660.5 674 660 680 660 L703 660 C709 660 712 660.5 714.5 664"/></g></g>
<text x="624.5" y="721" font-size="66" font-weight="bold" font-style="italic" fill="#3f445b" stroke="#3f445b" stroke-width="2.2" stroke-linejoin="round" ><tspan textLength="57" lengthAdjust="spacingAndGlyphs">P</tspan><tspan font-size="58" textLength="67" lengthAdjust="spacingAndGlyphs">ro</tspan></text>
<text x="619.5" y="765" font-size="52" font-weight="bold" font-style="italic" fill="#6fc8ea" stroke="#6fc8ea" stroke-width="1.6" stroke-linejoin="round" textLength="139" lengthAdjust="spacingAndGlyphs">VSP</text>
<text x="709.3" y="682.1" font-size="7.6" font-weight="bold" font-style="italic" fill="#e6407f" text-anchor="middle" textLength="34" lengthAdjust="spacingAndGlyphs">GROUP</text>
<path d="M684 679.4 H690.6 M728 679.4 H735" stroke="#e6407f" stroke-width="1" fill="none"/>
<polygon points="756.8,688.8 751.8,693.8 745.1,691.9 743.2,685.2 748.2,680.2 754.9,682.1" fill="#fff" stroke="#e6407f" stroke-width="3.8" stroke-linejoin="round"/>
<path d="M746.5 684.5 L748.5 687" stroke="#3f445b" stroke-width="0.8"/>
</g>
</svg>
</body></html>
